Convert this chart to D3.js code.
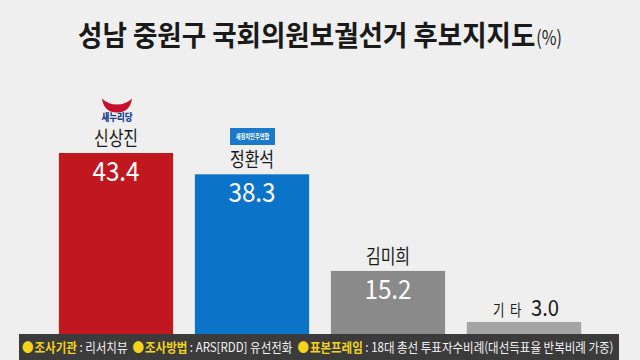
<!DOCTYPE html>
<html><head><meta charset="utf-8">
<script src="https://cdn.jsdelivr.net/npm/d3@7"></script>
<style>
html,body{margin:0;padding:0;background:#efefef;}
svg{display:block;}
text{font-family:"Noto Sans CJK KR","Noto Sans",sans-serif;}
text.pre{white-space:pre;}
</style></head>
<body>
<svg id="chart" width="640" height="360"></svg>
<script>
const candidates = ["신상진", "정환석", "김미희", "기 타"];
const values = [43.4, 38.3, 15.2, 3.0];
const title = "성남 중원구 국회의원보궐선거 후보지지도";
const titleUnit = "(%)";
const footerItems = [
  ["조사기관", "리서치뷰"],
  ["조사방법", "ARS[RDD] 유선전화"],
  ["표본프레임", "18대 총선 투표자수비례(대선득표율 반복비례 가중)"]
];

const barColors = ["#c1181f", "#0b74c8", "#8a8a8a", "#a4a4a4"];
const W = 640, H = 360;
const svg = d3.select("#chart");
svg.append("rect").attr("width", W).attr("height", H).attr("fill", "#efefef");

const x = d3.scaleBand().domain(candidates).range([48, 592]).paddingInner(0.16).paddingOuter(0.08);
const y = d3.scaleLinear().domain([0, 43.4]).range([334.5, 153]);

// condensed text: horizontally scaled group
function ctext(px, py, str, sx, opts) {
  const g = svg.append("g").attr("transform", `translate(${px},${py}) scale(${sx},1)`);
  const t = g.append("text").attr("x", 0).attr("y", 0).text(str);
  Object.entries(opts || {}).forEach(([k, v]) => t.attr(k, v));
  return { g, t, width: t.node().getComputedTextLength() * sx };
}

// title
const tsx = 0.915, usx = 0.8;
const tm = ctext(0, 46, title, tsx, { "font-size": 29, "font-weight": 700, fill: "#1a1a1a" });
const tu = ctext(0, 45, titleUnit, usx, { "font-size": 20, fill: "#1a1a1a" });
const totalW = tm.width + 1 + tu.width;
const tx0 = 320 - totalW / 2;
tm.g.attr("transform", `translate(${tx0},46) scale(${tsx},1)`);
tu.g.attr("transform", `translate(${tx0 + tm.width + 1},45) scale(${usx},1)`);

// bars
const data = candidates.map((c, i) => ({ name: c, value: values[i], i }));
svg.selectAll("rect.bar").data(data).join("rect").attr("class", "bar")
  .attr("x", d => x(d.name)).attr("width", x.bandwidth())
  .attr("y", d => y(d.value)).attr("height", d => y(0) - y(d.value))
  .attr("fill", d => barColors[d.i]);

const big = data.filter(d => d.value >= 10);
const small = data.filter(d => d.value < 10);

big.forEach(d => {
  const cx = x(d.name) + x.bandwidth() / 2;
  ctext(cx, y(d.value) - 7, d.name, 0.8, { "font-size": 20, fill: "#1a1a1a", "text-anchor": "middle" });
  ctext(cx, y(d.value) + 28, d.value.toFixed(1), 0.9, {
    "font-size": 27, fill: "#ffffff", "text-anchor": "middle", "font-family": "Roboto,sans-serif"
  });
});

small.forEach(d => {
  const cx = x(d.name) + x.bandwidth() / 2;
  ctext(cx - 31, y(d.value) - 6, d.name.replace(" ", "  "), 0.78, { "font-size": 16, fill: "#1a1a1a", class: "pre" });
  ctext(cx + 7, y(d.value) - 6, d.value.toFixed(1), 0.92, {
    "font-size": 22, fill: "#1a1a1a", "font-family": "Roboto,sans-serif"
  });
});

// logos
const bx = x(candidates[0]) + x.bandwidth() / 2;
const lg = svg.append("g").attr("transform", `translate(${bx + 1},-1.5)`);
lg.append("path").attr("fill", "#c8102e")
  .attr("d", "M-15,100 Q-13,114 0,114 Q13,114 15,100 Q9,106 0,106 Q-9,106 -15,100 Z");
ctext(bx + 1, 120.5, "새누리당", 0.85, { "font-size": 10, "font-weight": 900, fill: "#1d3f8f", "text-anchor": "middle" });

const cx2 = x(candidates[1]) + x.bandwidth() / 2;
svg.append("rect").attr("x", cx2 - 22).attr("y", 128).attr("width", 45).attr("height", 17).attr("fill", "#1a7ac9");
ctext(cx2 + 0.5, 139, "새정치민주연합", 0.75, { "font-size": 7, "font-weight": 700, fill: "#ffffff", "text-anchor": "middle" });

// footer
svg.append("rect").attr("x", 19).attr("y", 334).attr("width", 600).attr("height", 26).attr("fill", "#3b3b3b");
const fScale = 0.885;
let fx = 22;
footerItems.forEach((it) => {
  const pieces = [
    { t: "●", fill: "#f3d31b", w: 400, gap: 1 },
    { t: it[0], fill: "#f3d31b", w: 700, gap: 0 },
    { t: " : " + it[1], fill: "#f2f2f2", w: 400, gap: 5 }
  ];
  pieces.forEach(p => {
    const r = ctext(fx, 352, p.t, fScale, { "font-size": 13, "font-weight": p.w, fill: p.fill, class: "pre" });
    fx += r.width + p.gap;
  });
});
</script>
</body></html>
